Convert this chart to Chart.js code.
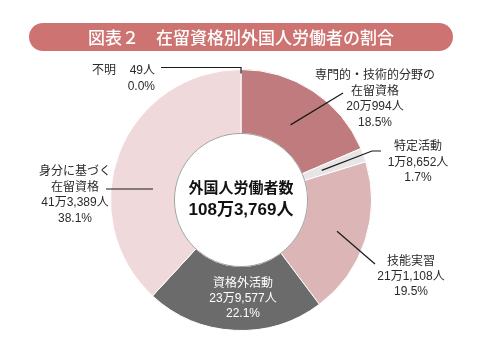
<!DOCTYPE html>
<html lang="ja">
<head>
<meta charset="utf-8">
<script src="https://cdn.jsdelivr.net/npm/chart.js@4.4.1/dist/chart.umd.min.js"></script>
<style>
  html, body { margin: 0; padding: 0; background: #fff; }
  #wrap { width: 482px; height: 363px; }
</style>
</head>
<body>
<div id="wrap"><canvas id="c" width="482" height="363"></canvas></div>
<script>
// ── Data ─────────────────────────────────────────────────────────
const TITLE = '図表２　在留資格別外国人労働者の割合';
const CATEGORIES = ['不明', '専門的・技術的分野の在留資格', '特定活動', '技能実習', '資格外活動', '身分に基づく在留資格'];
const NAME_LINES = [['不明'], ['専門的・技術的分野の', '在留資格'], ['特定活動'], ['技能実習'], ['資格外活動'], ['身分に基づく', '在留資格']];
const WORKERS = [49, 200994, 18652, 211108, 239577, 413389];
const COUNT_LABELS = ['49人', '20万994人', '1万8,652人', '21万1,108人', '23万9,577人', '41万3,389人'];
const SHARE_LABELS = ['0.0%', '18.5%', '1.7%', '19.5%', '22.1%', '38.1%'];
const TOTAL_LABEL = ['外国人労働者数', '108万3,769人'];
const COLORS = ['#8a5558', '#bf7b7e', '#e7e5e5', '#dcb5b7', '#6c6b6b', '#f0d9da'];

const FONT = '"Noto Sans CJK JP", "Noto Sans", sans-serif';
const LABEL_FONT = '"Liberation Sans", "Noto Sans CJK JP", sans-serif';

// label placement (x = centre of text block, y = first line middle, r = leader anchor radius in arc)
const LABEL_LAYOUT = [
  null,
  { x: 375, y: 76, step: 15.5, r: 90, to: [[343, 93]] },
  { x: 418, y: 147, step: 15.5, r: 86, to: [[372, 151], [381, 151]] },
  { x: 411, y: 262, step: 15, r: 101, to: [[375, 264]] },
  { x: 243, y: 284, step: 15, color: '#fff' },
  { x: 75, y: 172, step: 15.5, line: [[106, 189], [153, 189]] }
];

// ── Annotation plugin ───────────────────────────────────────────
const annotate = {
  id: 'annotate',
  afterDraw(chart) {
    const ctx = chart.ctx;
    const arcs = chart.getDatasetMeta(0).data;
    const cx = arcs[0].x, cy = arcs[0].y;
    ctx.save();

    // title pill
    const tx = 29, ty = 23, tw = 424, th = 28;
    ctx.fillStyle = '#cd7472';
    ctx.beginPath();
    ctx.roundRect(tx, ty, tw, th, th / 2);
    ctx.fill();
    ctx.fillStyle = '#fff';
    ctx.font = '500 17px ' + FONT;
    ctx.textAlign = 'left';
    ctx.textBaseline = 'middle';
    ctx.fillText(TITLE, 88, ty + th / 2 + 1);

    // inner ring outline
    ctx.strokeStyle = '#8c8c8c';
    ctx.lineWidth = 0.8;
    ctx.beginPath();
    ctx.arc(cx, cy, arcs[0].innerRadius, 0, Math.PI * 2);
    ctx.stroke();

    // centre total
    ctx.fillStyle = '#111';
    ctx.textAlign = 'center';
    ctx.font = 'bold 15px ' + FONT;
    ctx.fillText(TOTAL_LABEL[0], cx, 187);
    ctx.font = 'bold 17px ' + LABEL_FONT;
    ctx.fillText(TOTAL_LABEL[1], cx, 210);

    ctx.strokeStyle = '#1a1a1a';
    ctx.lineWidth = 1.2;
    const arcPoint = (a, r) => {
      const mid = (a.startAngle + a.endAngle) / 2;
      return [cx + Math.cos(mid) * r, cy + Math.sin(mid) * r];
    };

    // 不明 (tiny slice at top)
    ctx.font = '12px ' + LABEL_FONT;
    ctx.fillStyle = '#2b2b2b';
    ctx.textAlign = 'left';
    ctx.fillText(NAME_LINES[0][0], 92, 71);
    ctx.textAlign = 'right';
    ctx.fillText(COUNT_LABELS[0], 155, 71);
    ctx.fillText(SHARE_LABELS[0], 155, 87);
    const top = arcPoint(arcs[0], arcs[0].outerRadius);
    ctx.beginPath();
    ctx.moveTo(161, 67.5);
    ctx.lineTo(top[0], 67.5);
    ctx.lineTo(top[0], top[1] + 4);
    ctx.stroke();

    // other slices
    LABEL_LAYOUT.forEach((lay, i) => {
      if (!lay) return;
      const lines = [...NAME_LINES[i], COUNT_LABELS[i], SHARE_LABELS[i]];
      ctx.fillStyle = lay.color || '#2b2b2b';
      ctx.textAlign = 'center';
      lines.forEach((t, k) => ctx.fillText(t, lay.x, lay.y + k * lay.step));
      if (lay.to) {
        const p = arcPoint(arcs[i], lay.r);
        ctx.beginPath();
        ctx.moveTo(p[0], p[1]);
        lay.to.forEach(q => ctx.lineTo(q[0], q[1]));
        ctx.stroke();
      }
      if (lay.line) {
        ctx.beginPath();
        ctx.moveTo(lay.line[0][0], lay.line[0][1]);
        lay.line.slice(1).forEach(q => ctx.lineTo(q[0], q[1]));
        ctx.stroke();
      }
    });
    ctx.restore();
  }
};

new Chart(document.getElementById('c'), {
  type: 'doughnut',
  data: {
    labels: CATEGORIES,
    datasets: [{
      data: WORKERS,
      backgroundColor: COLORS,
      borderColor: '#fff',
      borderWidth: 1
    }]
  },
  options: {
    responsive: false,
    animation: false,
    cutout: '51%',
    layout: { padding: { left: 110, right: 110, top: 69, bottom: 32 } },
    plugins: { legend: { display: false }, tooltip: { enabled: false } }
  },
  plugins: [annotate]
});
</script>
</body>
</html>
